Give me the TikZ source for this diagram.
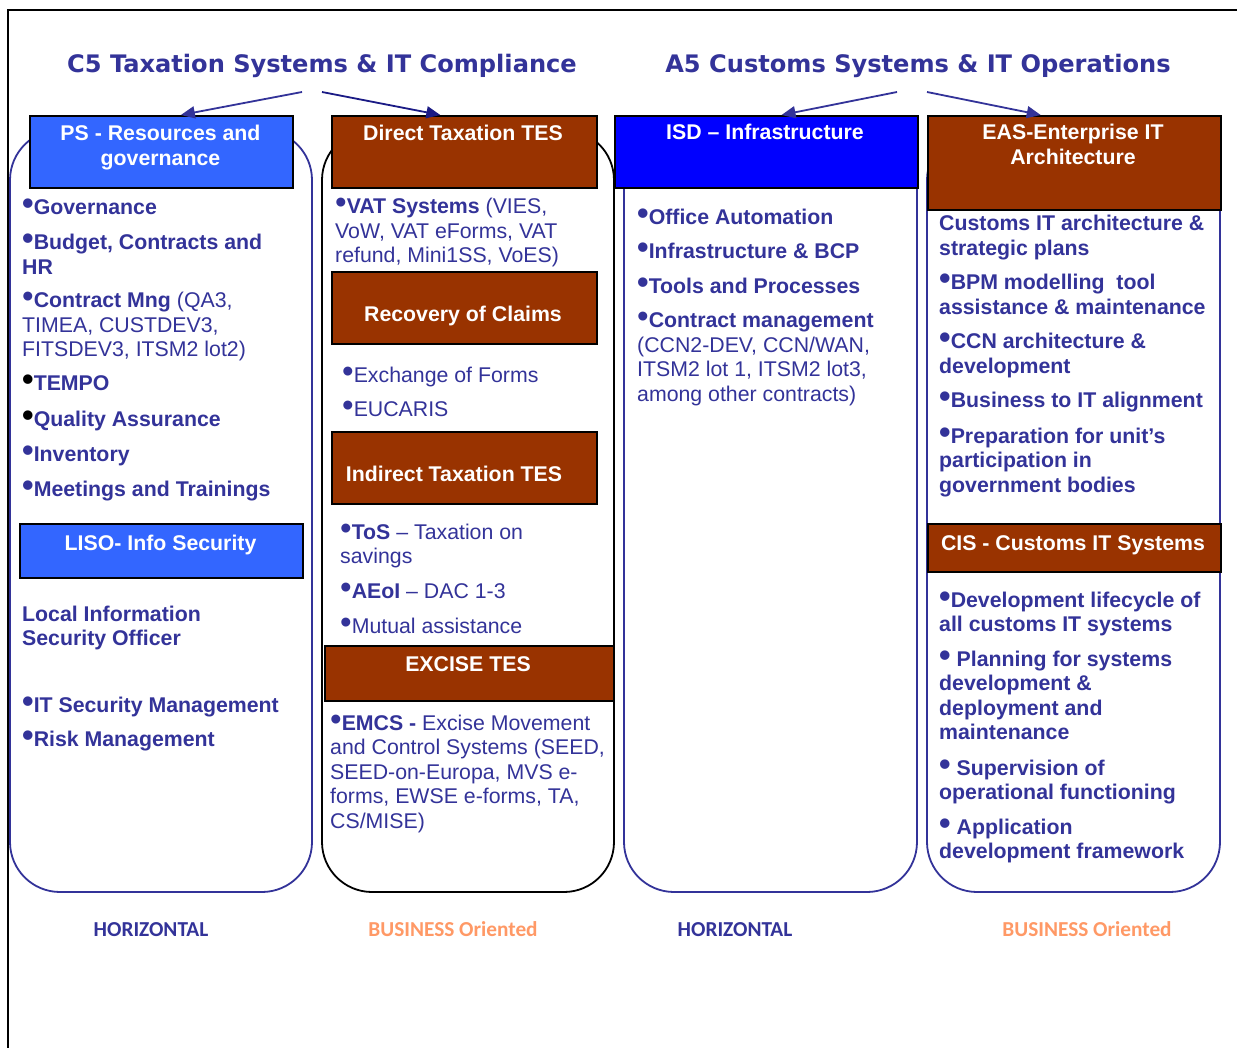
\documentclass[tikz,border=0pt]{standalone}
\usepackage{fontspec}
\usepackage{graphicx}
\setmainfont{Liberation Sans}
\newfontfamily\titlefont{DejaVu Sans}
\newfontfamily\labelfont{Carlito}
\usetikzlibrary{arrows.meta,calc}
\definecolor{navyc}{HTML}{333399}
\definecolor{navyd}{HTML}{1A1A85}
\definecolor{psblue}{HTML}{3366FF}
\definecolor{isdblue}{HTML}{0000FF}
\definecolor{brick}{HTML}{993300}
\definecolor{peach}{HTML}{FF9966}
\newcommand\bodyfont{\fontsize{21.3}{24.5}\selectfont}
\newcommand\bu[1][navyc]{{\color{#1}\scalebox{1.55}{•}}}
\newcommand\ml[1]{\begin{tabular}[t]{@{}l@{}}#1\end{tabular}}
\newcommand\mc[1]{\begin{tabular}[t]{@{}c@{}}#1\end{tabular}}
\begin{document}
\begin{tikzpicture}[x=1pt,y=-1pt,
  column/.style={rounded corners=50, line width=1.8},
  hbox/.style={draw=black, line width=1.6, anchor=north west, inner sep=0},
  htext/.style={text=white, font=\bodyfont\bfseries, anchor=base, inner sep=0},
  item/.style={anchor=base west, inner sep=0, text=navyc, font=\bodyfont},
  itemb/.style={item, font=\bodyfont\bfseries},
  ttl/.style={anchor=base, inner sep=0, text=navyc, font=\titlefont\bfseries\fontsize{24.1}{28}\selectfont},
  lbl/.style={anchor=base, inner sep=0, font=\labelfont\bfseries\fontsize{21.3}{25}\selectfont},
  link/.style={line width=1.8, -{Triangle[length=14,width=12]}}
]
\useasboundingbox (0,0) rectangle (1237,1048);
\fill[white] (0,0) rectangle (1237,1048);
% outer frame (top and left edges)
\draw[line width=2] (8,1048) -- (8,10) -- (1237,10);

% column outlines
\draw[column, draw=navyc] (10,130) rectangle (312,892);
\draw[column, draw=black] (322,130) rectangle (614,892);
\draw[column, draw=navyc] (624,130) rectangle (917,892);
\draw[column, draw=navyc] (927,130) rectangle (1220,892);

% directorate titles
\node[ttl] (c5) at (322,73) {C5 Taxation Systems \& IT Compliance};
\node[ttl] (a5) at (918,73) {A5 Customs Systems \& IT Operations};
\coordinate (c5l) at (302,92);
\coordinate (c5r) at (322,92);
\coordinate (a5l) at (897,92);
\coordinate (a5r) at (927,92);

% unit header boxes
\node[hbox, fill=psblue, minimum width=263, minimum height=72] (ps) at (29,115) {};
\node[hbox, fill=brick, minimum width=265, minimum height=72] (dt) at (331,115) {};
\node[hbox, fill=isdblue, minimum width=303, minimum height=72] (isd) at (614,115) {};
\node[hbox, fill=brick, minimum width=293, minimum height=94] (eas) at (927,115) {};
\node[hbox, fill=brick, minimum width=265, minimum height=72] (rc) at (331,271) {};
\node[hbox, fill=brick, minimum width=265, minimum height=72] (it) at (331,431) {};
\node[hbox, fill=psblue, minimum width=283, minimum height=54] (liso) at (19,523) {};
\node[hbox, fill=brick, minimum width=289, minimum height=55] (ex) at (324,645) {};
\node[hbox, fill=brick, minimum width=293, minimum height=48] (cis) at (927,523) {};

% header captions
\node[htext] (pst) at (160.5,141) {\mc{PS - Resources and\\governance}};
\node[htext] (dtt) at (463,141) {Direct Taxation TES};
\node[htext] (isdt) at (765,140) {ISD – Infrastructure};
\node[htext] (east) at (1073,140) {\mc{EAS-Enterprise IT\\Architecture}};
\node[htext] (rct) at (463,322) {Recovery of Claims};
\node[htext] (itt) at (454,481) {Indirect Taxation TES};
\node[htext] (lisot) at (160.5,550) {LISO- Info Security};
\node[htext] (ext) at (468,671) {EXCISE TES};
\node[htext] (cist) at (1073,550) {CIS - Customs IT Systems};

% reporting arrows
\draw[link, draw=navyc, fill=navyc] (c5l) -- ($(ps.north west)!0.574!(ps.north east)$);
\draw[link, draw=navyd, fill=navyd] (c5r) -- ($(dt.north west)!0.41!(dt.north east)$);
\draw[link, draw=navyc, fill=navyc] (a5l) -- ($(isd.north west)!0.55!(isd.north east)$);
\draw[link, draw=navyc, fill=navyc] (a5r) -- ($(eas.north west)!0.386!(eas.north east)$);

% PS / LISO column
\node[itemb] (p1) at (22,215) {\bu Governance};
\node[itemb] (p2) at (22,250) {\ml{\bu Budget, Contracts and\\HR}};
\node[item] (p3) at (22,308) {\ml{\bu\textbf{Contract Mng} (QA3,\\TIMEA, CUSTDEV3,\\FITSDEV3, ITSM2 lot2)}};
\node[itemb] (p4) at (22,391) {\bu[black]TEMPO};
\node[itemb] (p5) at (22,427) {\bu[black]Quality Assurance};
\node[itemb] (p6) at (22,461) {\bu Inventory};
\node[itemb] (p7) at (22,496) {\bu Meetings and Trainings};
\node[itemb] (l1) at (22,621) {\ml{Local Information\\Security Officer}};
\node[itemb] (l2) at (22,712) {\bu IT Security Management};
\node[itemb] (l3) at (22,746) {\bu Risk Management};

% taxation column
\node[item] (v1) at (335,214) {\ml{\bu\textbf{VAT Systems} (VIES,\\VoW, VAT eForms, VAT\\refund, Mini1SS, VoES)}};
\node[item] (r1) at (342,383) {\bu Exchange of Forms};
\node[item] (r2) at (342,417) {\bu EUCARIS};
\node[item] (i1) at (340,539) {\ml{\bu\textbf{ToS} – Taxation on\\savings}};
\node[item] (i2) at (340,598) {\bu\textbf{AEoI} – DAC 1-3};
\node[item] (i3) at (340,633) {\bu Mutual assistance};
\node[item] (x1) at (330,730) {\ml{\bu\textbf{EMCS -} Excise Movement\\and Control Systems (SEED,\\SEED-on-Europa, MVS e-\\forms, EWSE e-forms, TA,\\CS/MISE)}};

% infrastructure column
\node[itemb] (o1) at (637,225) {\bu Office Automation};
\node[itemb] (o2) at (637,259) {\bu Infrastructure \& BCP};
\node[itemb] (o3) at (637,294) {\bu Tools and Processes};
\node[item] (o4) at (637,328) {\ml{\bu\textbf{Contract management}\\(CCN2-DEV, CCN/WAN,\\ITSM2 lot 1, ITSM2 lot3,\\among other contracts)}};

% architecture / customs IT column
\node[itemb] (e0) at (939,231) {\ml{Customs IT architecture \&\\strategic plans}};
\node[itemb] (e1) at (939,290) {\ml{\bu BPM modelling\ \ tool\\assistance \& maintenance}};
\node[itemb] (e2) at (939,349) {\ml{\bu CCN architecture \&\\development}};
\node[itemb] (e3) at (939,408) {\bu Business to IT alignment};
\node[itemb] (e4) at (939,443) {\ml{\bu Preparation for unit’s\\participation in\\government bodies}};
\node[itemb] (s1) at (939,607) {\ml{\bu Development lifecycle of\\all customs IT systems}};
\node[itemb] (s2) at (939,666) {\ml{\bu\ Planning for systems\\development \&\\deployment and\\maintenance}};
\node[itemb] (s3) at (939,775) {\ml{\bu\ Supervision of\\operational functioning}};
\node[itemb] (s4) at (939,834) {\ml{\bu\ Application\\development framework}};

% orientation labels
\node[lbl, text=navyc] (h1) at (151,936) {HORIZONTAL};
\node[lbl, text=peach] (b1) at (453,936) {BUSINESS Oriented};
\node[lbl, text=navyc] (h2) at (735,936) {HORIZONTAL};
\node[lbl, text=peach] (b2) at (1087,936) {BUSINESS Oriented};
\end{tikzpicture}
\end{document}
